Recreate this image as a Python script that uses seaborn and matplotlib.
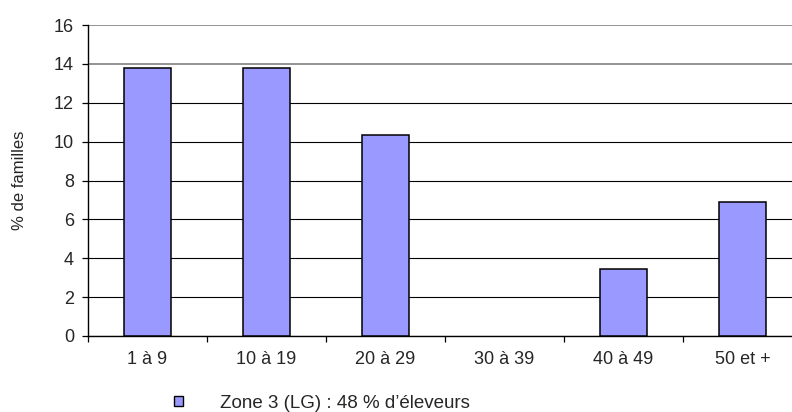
import numpy as np
import pandas as pd
import seaborn as sns
import matplotlib.pyplot as plt
from matplotlib.ticker import FixedLocator

# data
categories = ["1 à 9", "10 à 19", "20 à 29", "30 à 39", "40 à 49", "50 et +"]
values = [13.79, 13.79, 10.34, 0.0, 3.45, 6.90]
series_label = "Zone 3 (LG) : 48 % d\u2019éleveurs"
yticks = [0, 2, 4, 6, 8, 10, 12, 14, 16]

sns.set_style("white")
plt.rcParams['font.family'] = ['Liberation Sans', 'DejaVu Sans']

df = pd.DataFrame({"cat": categories, "val": values})

fig = plt.figure(figsize=(7.92, 4.12), dpi=100)
ax = fig.add_axes([88/792, 76/412, 714/792, 311/412])

sns.barplot(data=df, x="cat", y="val", color="#9999FF", saturation=1,
            edgecolor="black", linewidth=1.1, width=0.4, label=series_label, ax=ax, zorder=3)

# empty bars leave no outline
for p in ax.patches:
    if p.get_height() == 0:
        p.set_linewidth(0)

ax.set_xlim(-0.5, len(categories) - 0.5)
ax.set_ylim(0, 16)
ax.set_yticks(yticks)
ax.set_yticklabels([str(t) for t in yticks])

# grid
ax.grid(axis="y", color="black", linewidth=0.8, zorder=0)
for t, gl in zip(yticks, ax.get_ygridlines()):
    if t >= 14:
        gl.set_color("#808080")
        gl.set_linewidth(1.2)

# ticks at category boundaries, labels in the middle
ax.xaxis.set_minor_locator(FixedLocator(np.arange(-0.5, len(categories), 1.0)))
ax.tick_params(axis="x", which="major", length=0, pad=11, labelsize=13)
ax.tick_params(axis="x", which="minor", length=4, width=0.9, color="black", direction="out", bottom=True)
ax.tick_params(axis="y", length=4, width=0.9, color="black", direction="out", left=True, pad=6, labelsize=13)

for s in ["top", "right"]:
    ax.spines[s].set_visible(False)
for s in ["left", "bottom"]:
    ax.spines[s].set_color("black")
    ax.spines[s].set_linewidth(1.0)

ax.set_xlabel("")
ax.set_ylabel("% de familles", fontsize=12)
ax.yaxis.set_label_coords(-0.085, 0.5)

leg = ax.legend(loc="center left", bbox_to_anchor=(174/792, 9/412), bbox_transform=fig.transFigure,
                frameon=False, fontsize=13.5, handlelength=0.48, handleheight=0.48, handletextpad=1.95,
                borderpad=0, borderaxespad=0)
for h in leg.legend_handles:
    h.set_linewidth(1.0)

fig.savefig("out.png", dpi=100)
